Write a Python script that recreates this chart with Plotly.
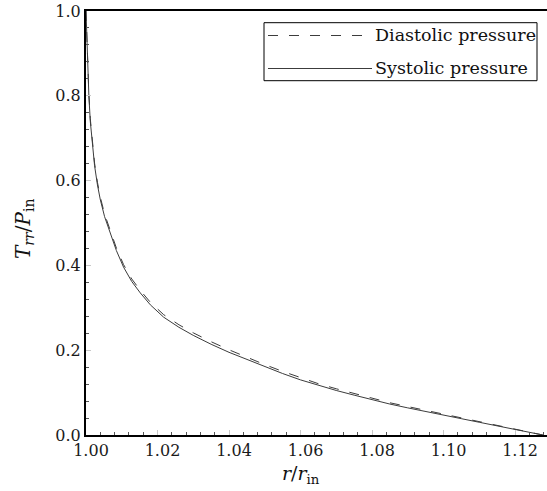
import plotly.graph_objects as go

# ---- data ----
r_vals = [1.0, 1.0002, 1.0005, 1.0008, 1.0012, 1.0017, 1.0024, 1.0032, 1.004, 1.0052,
          1.0068, 1.0085, 1.0105, 1.0128, 1.0152, 1.018, 1.0217, 1.026, 1.03, 1.035,
          1.04, 1.045, 1.05, 1.055, 1.06, 1.065, 1.07, 1.075, 1.08, 1.085,
          1.09, 1.095, 1.10, 1.105, 1.11, 1.115, 1.12, 1.1278]
systolic = [1.0, 0.94, 0.86, 0.80, 0.74, 0.69, 0.635, 0.59, 0.555, 0.515,
            0.476, 0.435, 0.396, 0.362, 0.335, 0.307, 0.278, 0.254, 0.235, 0.214,
            0.195, 0.178, 0.161, 0.145, 0.130, 0.117, 0.105, 0.094, 0.083, 0.073,
            0.064, 0.055, 0.047, 0.0385, 0.030, 0.0215, 0.013, 0.0]
diastolic = [1.0, 0.945, 0.866, 0.806, 0.746, 0.696, 0.641, 0.596, 0.561, 0.521,
             0.482, 0.441, 0.402, 0.368, 0.341, 0.313, 0.284, 0.260, 0.241, 0.220,
             0.201, 0.183, 0.166, 0.150, 0.135, 0.121, 0.109, 0.098, 0.087, 0.076,
             0.067, 0.058, 0.049, 0.040, 0.0315, 0.0225, 0.0135, 0.0]
series_names = ["Diastolic pressure", "Systolic pressure"]
x_ticks = [1.00, 1.02, 1.04, 1.06, 1.08, 1.10, 1.12]
y_ticks = [0.0, 0.2, 0.4, 0.6, 0.8, 1.0]

# ---- layout geometry ----
W, H = 547, 491
L, R, T, B = 86, 0, 11, 56
PW, PH = W - L - R, H - T - B
PX_PER_UNIT = 3575.0  # horizontal pixels per unit of r/r_in
x_range = [1.0, 1.0 + PW / PX_PER_UNIT]


def px(x):
    return (x - L) / PW


def py(y):
    return (H - B - y) / PH


FONT = "DejaVu Serif"
LINE_COLOR = "#3c3c3c"
DASH = "10px,11px"

fig = go.Figure()
fig.add_trace(go.Scatter(x=r_vals, y=diastolic, mode="lines", name=series_names[0],
                         line=dict(color=LINE_COLOR, width=1, dash=DASH),
                         showlegend=False))
fig.add_trace(go.Scatter(x=r_vals, y=systolic, mode="lines", name=series_names[1],
                         line=dict(color=LINE_COLOR, width=1),
                         showlegend=False))

fig.update_xaxes(range=x_range, tickvals=x_ticks, ticktext=[f"{v:.2f}" for v in x_ticks],
                 ticks="inside", ticklen=5, tickcolor="#c8c8c8", tickwidth=1,
                 minor=dict(dtick=0.004, tick0=1.0, ticks="inside", ticklen=3,
                            tickcolor="#555555", tickwidth=1),
                 showline=True, linecolor="black", linewidth=2, mirror=True,
                 showgrid=False, zeroline=False,
                 tickfont=dict(family=FONT, size=16, color="#1a1a1a"),
                 ticklabelshift=5)
fig.update_yaxes(range=[0, 1], tickvals=y_ticks, ticktext=[f"{v:.1f}" for v in y_ticks],
                 ticks="inside", ticklen=5, tickcolor="#c8c8c8", tickwidth=1,
                 minor=dict(dtick=0.04, tick0=0.0, ticks="inside", ticklen=3,
                            tickcolor="#555555", tickwidth=1),
                 showline=True, linecolor="black", linewidth=2, mirror=False,
                 showgrid=False, zeroline=False,
                 tickfont=dict(family=FONT, size=16, color="#1a1a1a"))

shapes = []
annotations = []

# legend box
shapes.append(dict(type="rect", xref="paper", yref="paper",
                   x0=px(264), x1=px(537), y0=py(80.7), y1=py(22.7),
                   line=dict(color="black", width=1), fillcolor="white", layer="above"))
legend_rows = [(35.5, DASH), (68.5, "solid")]
for (yy, dash), name in zip(legend_rows, series_names):
    shapes.append(dict(type="line", xref="paper", yref="paper",
                       x0=px(268), x1=px(372), y0=py(yy), y1=py(yy),
                       line=dict(color=LINE_COLOR, width=1, dash=dash), layer="above"))
    annotations.append(dict(text=name, xref="paper", yref="paper",
                            x=px(373), y=py(yy), xanchor="left", yanchor="middle",
                            showarrow=False, font=dict(family=FONT, size=17.5, color="#111")))

# axis titles
annotations.append(dict(text="<i>r</i>/<i>r</i><sub>in</sub>", xref="paper", yref="paper",
                        x=px(301), y=py(474), xanchor="center", yanchor="middle",
                        showarrow=False, font=dict(family=FONT, size=19, color="#111")))
annotations.append(dict(text="<i>T</i><sub><i>rr</i></sub>/<i>P</i><sub>in</sub>",
                        xref="paper", yref="paper", textangle=-90,
                        x=px(24), y=py(229), xanchor="center", yanchor="middle",
                        showarrow=False, font=dict(family=FONT, size=20, color="#111")))

fig.update_layout(width=W, height=H, margin=dict(l=L, r=R, t=T, b=B, pad=0),
                  plot_bgcolor="white", paper_bgcolor="white",
                  shapes=shapes, annotations=annotations, showlegend=False)

fig.write_html("out.html")
